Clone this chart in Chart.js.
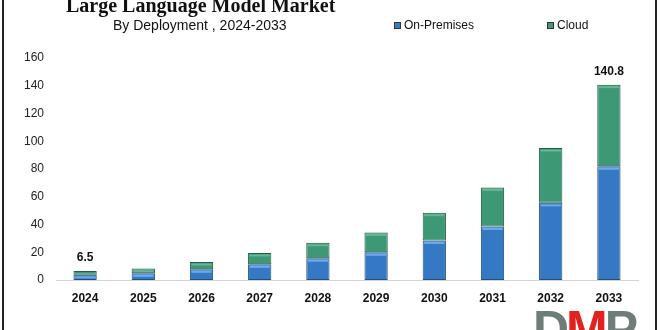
<!DOCTYPE html>
<html>
<head>
<meta charset="utf-8">
<script src="https://cdn.jsdelivr.net/npm/chart.js@4.4.1/dist/chart.umd.min.js"></script>
<style>
  html, body { margin: 0; padding: 0; background: #fff; }
  body { width: 660px; height: 330px; position: relative; overflow: hidden; font-family: "Liberation Sans", Arial, sans-serif; }
  #wrap { position: absolute; left: 0; top: 0; width: 660px; height: 330px; }
  .frame { position: absolute; top: 0; width: 2px; height: 330px; background: #222; }
  #title { position: absolute; left: 66px; top: -5px; font-family: "Liberation Serif", "Times New Roman", serif; font-weight: bold; font-size: 20px; color: #111; white-space: nowrap; line-height: 20px; }
  #subtitle { position: absolute; left: 113px; top: 17px; font-size: 14px; color: #111; white-space: nowrap; line-height: 16px; }
  .leg { position: absolute; top: 18px; font-size: 12px; color: #111; white-space: nowrap; line-height: 14px; }
  .sw { display: inline-block; width: 7px; height: 7px; margin-right: 3px; vertical-align: 0px; border: 0.5px solid #333; box-sizing: border-box; }
  #logo { position: absolute; left: 533px; top: 304px; font-family: "Liberation Sans", Arial, sans-serif; font-weight: bold; font-size: 50px; line-height: 50px; white-space: nowrap; letter-spacing: -3px; }
</style>
</head>
<body>
<div id="wrap"><canvas id="c" width="660" height="330"></canvas></div>
<div class="frame" style="left:2px"></div>
<div class="frame" style="left:655px"></div>
<div id="title">Large Language Model Market</div>
<div id="subtitle">By Deployment , 2024-2033</div>
<div class="leg" style="left:394px"><span class="sw" style="background:#3a7cc4"></span>On-Premises</div>
<div class="leg" style="left:547px"><span class="sw" style="background:#3f9a78"></span>Cloud</div>
<div id="logo"><span style="color:#6f7d7a">D</span><span style="color:#e3211f">M</span><span style="color:#6f7d7a">P</span></div>
<script>
const years = ["2024","2025","2026","2027","2028","2029","2030","2031","2032","2033"];
const onPremises = [3.7, 4.8, 7.7, 11.3, 15.7, 20.0, 28.5, 38.6, 55.6, 82.0];
const cloud = [2.8, 3.4, 5.3, 8.2, 11.1, 14.3, 20.0, 28.1, 39.5, 58.8];
const totalLabels = {0: "6.5", 9: "140.8"};
const yTicks = [0, 20, 40, 60, 80, 100, 120, 140, 160];

function barFill(base, light, dark) {
  return function(ctx) {
    const chart = ctx.chart;
    const el = ctx.element;
    if (!el || !chart.chartArea || el.width === undefined) return base;
    const x0 = el.x - el.width / 2, x1 = el.x + el.width / 2;
    const g = chart.ctx.createLinearGradient(x0, 0, x1, 0);
    g.addColorStop(0, dark);
    g.addColorStop(0.15, base);
    g.addColorStop(0.5, light);
    g.addColorStop(0.85, base);
    g.addColorStop(1, dark);
    return g;
  };
}

const highlight = {
  id: 'highlight',
  afterDatasetsDraw(chart) {
    const ctx = chart.ctx;
    chart.data.datasets.forEach((ds, di) => {
      const meta = chart.getDatasetMeta(di);
      meta.data.forEach(bar => {
        const w = bar.width, top = Math.min(bar.y, bar.base);
        const h = Math.abs(bar.base - bar.y);
        if (h < 4) return;
        ctx.save();
        ctx.fillStyle = di === 0 ? 'rgba(120,185,245,0.8)' : 'rgba(120,195,160,0.7)';
        ctx.fillRect(bar.x - w / 2 + 1.5, top + 1.5, w - 3, 2);
        ctx.restore();
      });
    });
  }
};

const totals = {
  id: 'totals',
  afterDatasetsDraw(chart) {
    const ctx = chart.ctx;
    const meta = chart.getDatasetMeta(1);
    ctx.save();
    ctx.font = 'bold 12px "Liberation Sans", Arial, sans-serif';
    ctx.fillStyle = '#111';
    ctx.textAlign = 'center';
    ctx.textBaseline = 'bottom';
    Object.keys(totalLabels).forEach(k => {
      const bar = meta.data[+k];
      ctx.fillText(totalLabels[k], bar.x, bar.y - 7);
    });
    ctx.restore();
  }
};

new Chart(document.getElementById('c'), {
  type: 'bar',
  data: {
    labels: years,
    datasets: [
      { label: 'On-Premises', data: onPremises, backgroundColor: barFill('#3579c4', '#4089d6', '#2a62a3'), borderColor: '#234f7d', borderWidth: 1, borderSkipped: false, barPercentage: 0.4, categoryPercentage: 1 },
      { label: 'Cloud', data: cloud, backgroundColor: barFill('#3c9875', '#46a480', '#2e7c5e'), borderColor: '#245c47', borderWidth: 1, borderSkipped: false, barPercentage: 0.4, categoryPercentage: 1 }
    ]
  },
  options: {
    responsive: false,
    animation: false,
    devicePixelRatio: 1,
    layout: { padding: { left: 0, right: 22, top: 58, bottom: 0 } },
    plugins: { legend: { display: false }, tooltip: { enabled: false }, title: { display: false } },
    scales: {
      x: {
        stacked: true,
        grid: { display: false, drawTicks: false },
        border: { display: true, color: '#d4d4d4', width: 1 },
        ticks: { color: '#111', font: { family: '"Liberation Sans", Arial, sans-serif', size: 12, weight: 'bold' }, padding: 11 },
        afterFit(s) { s.height = 50; }
      },
      y: {
        stacked: true,
        min: 0, max: 160,
        grid: { display: false, drawTicks: false },
        border: { display: false },
        afterBuildTicks(s) { s.ticks = yTicks.map(v => ({ value: v })); },
        ticks: { color: '#222', font: { family: '"Liberation Sans", Arial, sans-serif', size: 12 }, padding: 12 },
        afterFit(s) { s.width = 56; }
      }
    }
  },
  plugins: [highlight, totals]
});
</script>
</body>
</html>
